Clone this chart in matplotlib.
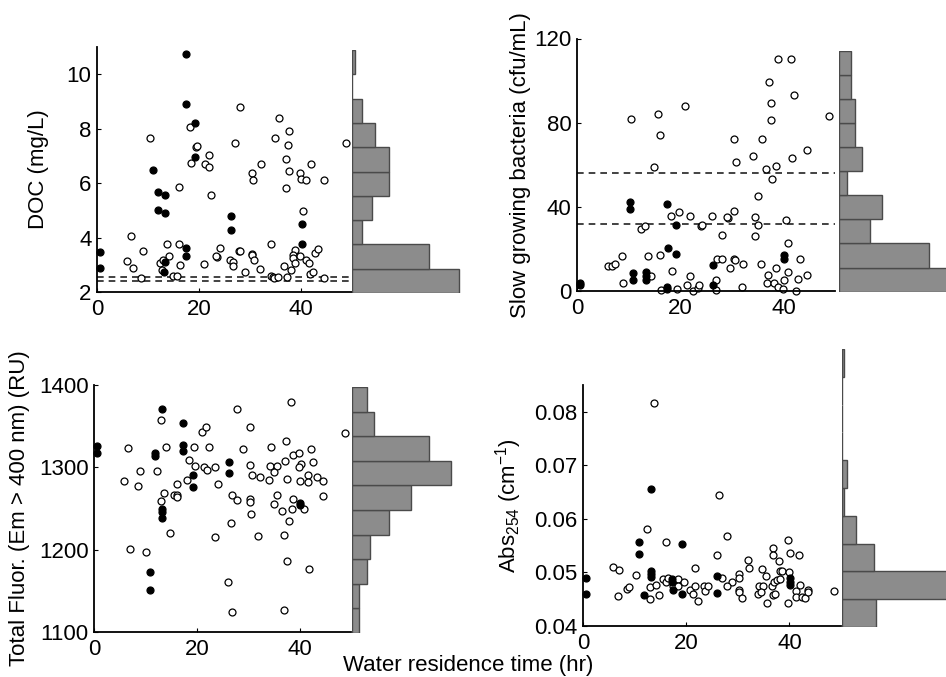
import matplotlib
matplotlib.use('Agg')
import matplotlib.pyplot as plt
import numpy as np

plt.rcParams['font.family'] = ['Liberation Sans', 'DejaVu Sans']
plt.rcParams['mathtext.fontset'] = 'custom'
plt.rcParams['mathtext.rm'] = 'Liberation Sans'
plt.rcParams['mathtext.it'] = 'Liberation Sans:italic'
plt.rcParams['font.size'] = 16

W, H = 946, 677

# ---- DOC (mg/L) ----
doc_fill_x = [0.5, 0.5, 10.9, 11.9, 13.3, 11.9, 13.3, 13.3, 13.2, 17.4, 17.5, 19.3, 19.2, 17.4, 17.4, 26.3, 26.3, 40.1, 40.1]
doc_fill_y = [3.48, 2.90, 6.48, 5.66, 5.57, 5.02, 4.92, 3.09, 2.72, 10.73, 8.90, 8.21, 6.97, 3.61, 3.34, 4.80, 4.28, 4.51, 3.77]
doc_open_x = [6.7, 5.8, 7.0, 9.0, 8.6, 10.4, 12.3, 13.0, 12.8, 13.8, 14.2, 14.9, 15.7, 16.1, 16.1, 16.3, 18.2, 18.4,
              19.4, 19.6, 21.0, 21.2, 21.9, 21.9, 22.3, 23.5, 23.4, 24.2, 27.0, 26.1, 26.7, 26.7, 27.8,
              28.0, 35.7, 37.6, 34.9, 37.4, 48.9, 37.0, 32.2, 37.6, 42.0, 30.4, 30.5, 39.8, 40.0, 40.9, 44.5,
              37.0, 40.4, 34.1, 28.0, 30.3, 30.3, 30.8, 32.0, 29.1, 38.8, 38.5, 38.5, 39.9, 38.9, 38.0, 36.7,
              40.9, 41.5, 42.8, 43.3, 41.7, 42.3, 34.2, 34.5, 34.8, 35.5, 37.3, 44.6]
doc_open_y = [4.04, 3.15, 2.88, 3.51, 2.50, 7.67, 3.07, 3.18, 2.82, 3.75, 3.34, 2.57, 2.60, 5.86, 3.77, 2.99, 8.07, 6.73,
              7.34, 7.36, 3.04, 6.69, 7.05, 6.59, 5.57, 3.29, 3.31, 3.60, 7.46, 3.16, 3.12, 2.96, 3.49,
              8.78, 8.40, 7.91, 7.64, 7.40, 7.46, 6.87, 6.70, 6.44, 6.70, 6.36, 6.11, 6.38, 6.15, 6.11, 6.11,
              5.81, 4.99, 3.78, 3.50, 3.41, 3.36, 3.16, 2.86, 2.73, 3.55, 3.37, 3.26, 3.31, 3.06, 2.81, 2.96,
              3.18, 3.06, 3.43, 3.59, 2.66, 2.73, 2.57, 2.55, 2.53, 2.56, 2.55, 2.53]
doc_lines = [2.55, 2.42]
doc_hist = [32, 23, 3, 6, 11, 11, 7, 3, 0, 1]  # bins bottom to top

# ---- Slow growing bacteria (cfu/mL) ----
bac_fill_x = [0.6, 0.6, 10.2, 10.2, 17.4, 19.2, 17.6, 19.2, 10.9, 10.9, 13.3, 13.3, 13.3, 17.5, 17.5, 26.3, 26.3, 40.2, 40.2]
bac_fill_y = [4.0, 3.0, 42.4, 38.8, 41.3, 31.5, 20.5, 17.5, 8.4, 5.3, 8.9, 7.0, 5.3, 1.8, 0.9, 12.5, 3.0, 17.1, 15.1]
bac_open_x = [10.4, 15.7, 16.1, 21.0, 15.0, 12.4, 13.1, 18.3, 19.7, 21.9, 24.1, 24.2, 26.1, 28.1, 29.2, 6.0, 6.8, 7.4,
              8.8, 9.0, 13.8, 14.3, 16.1, 16.3, 18.4, 19.4, 21.4, 21.9, 22.4, 23.4, 23.7, 26.9, 27.0, 27.1, 28.1, 29.7,
              38.9, 41.5, 37.2, 42.1, 37.5, 37.6, 48.9, 30.5, 35.8, 44.5, 34.1, 41.6, 30.9, 36.7, 38.6, 37.7,
              35.1, 30.4, 29.1, 34.5, 35.1, 40.5, 34.4, 40.8, 30.4, 30.6, 32.2, 35.7, 38.5, 43.3, 40.8, 37.1,
              44.5, 42.8, 36.9, 38.1, 40.1, 38.9, 39.9, 42.5, 32.0]
bac_open_y = [81.8, 84.0, 74.1, 88.0, 59.0, 29.7, 30.9, 35.6, 37.7, 35.6, 30.8, 31.2, 35.6, 26.7, 34.7, 12.1, 11.9, 13.0,
              16.4, 4.0, 16.5, 7.1, 17.2, 0.5, 9.4, 1.0, 3.0, 7.1, 0.0, 1.2, 2.7, 5.0, 0.5, 15.1, 15.1, 10.7,
              110.3, 110.3, 99.4, 93.3, 89.4, 81.4, 83.2, 72.4, 72.4, 67.1, 64.3, 63.3, 61.1, 58.2, 59.2, 53.2,
              45.2, 38.1, 35.1, 35.1, 31.2, 33.8, 26.2, 23.0, 15.3, 14.8, 13.0, 13.0, 10.8, 15.3, 8.9, 7.6,
              7.6, 5.9, 3.8, 3.8, 5.2, 1.7, 0.8, 0.2, 1.9]
bac_lines = [56.3, 31.8]
bac_hist = [33, 23, 8, 11, 2, 6, 4, 4, 3, 3]

# ---- Total fluorescence (RU) ----
flu_fill_x = [0.5, 0.5, 13.3, 11.8, 11.8, 17.3, 17.3, 17.3, 13.3, 13.3, 13.3, 19.2, 19.2, 10.9, 10.9, 26.3, 26.3, 40.1, 40.1]
flu_fill_y = [1325.8, 1317.7, 1370.4, 1317.3, 1313.7, 1353.4, 1326.6, 1319.3, 1249.6, 1245.6, 1237.9, 1290.2, 1275.6,
              1173.4, 1151.1, 1306.0, 1292.6, 1256.9, 1254.0]
flu_open_x = [5.8, 6.7, 7.0, 8.9, 8.6, 10.2, 12.3, 13.0, 13.0, 13.7, 14.1, 14.8, 15.6, 16.1, 16.2, 16.1, 18.1, 18.4,
              19.4, 19.6, 21.0, 21.7, 21.4, 22.0, 22.4, 23.6, 23.6, 24.2, 26.1, 26.7, 26.9, 26.9, 27.9, 27.9,
              30.3, 38.4, 48.9, 37.4, 29.0, 34.4, 38.7, 39.9, 42.3, 37.1, 42.7, 30.3, 34.2, 35.7, 35.0, 40.3,
              39.9, 30.8, 32.2, 34.0, 37.5, 40.1, 41.7, 41.6, 43.4, 44.5, 44.5, 30.4, 30.4, 35.7, 35.0, 38.7,
              38.6, 36.6, 40.8, 30.5, 37.9, 32.0, 36.9, 37.5, 41.9, 36.9]
flu_open_y = [1283.3, 1323.4, 1201.4, 1295.4, 1277.2, 1197.3, 1295.0, 1357.4, 1259.7, 1269.0, 1324.6, 1220.0, 1266.0,
              1267.0, 1264.0, 1279.6, 1284.5, 1308.8, 1324.6, 1301.9, 1342.8, 1349.3, 1300.3, 1296.2, 1325.0,
              1299.9, 1215.6, 1279.6, 1160.4, 1231.8, 1124.8, 1267.0, 1370.4, 1260.0,
              1349.3, 1379.3, 1341.6, 1331.9, 1321.8, 1324.2, 1315.3, 1316.9, 1321.8, 1307.6, 1306.0, 1302.3,
              1301.5, 1301.5, 1294.2, 1303.9, 1300.3, 1290.2, 1288.5, 1284.5, 1285.3, 1283.3, 1290.2, 1282.0,
              1288.5, 1283.3, 1264.6, 1261.0, 1258.0, 1267.0, 1255.7, 1261.0, 1249.6, 1246.8, 1249.6, 1243.1,
              1235.4, 1216.4, 1218.0, 1186.0, 1177.1, 1126.4]
flu_hist = [2, 2, 4, 5, 10, 16, 27, 21, 6, 4]

# ---- Abs254 (cm-1) ----
abs_fill_x = [0.5, 0.5, 10.9, 10.9, 13.2, 13.2, 13.2, 13.2, 11.8, 17.3, 17.3, 17.4, 19.1, 19.1, 25.9, 25.9, 40.1, 40.1, 40.1]
abs_fill_y = [0.0489, 0.0460, 0.0556, 0.0535, 0.0656, 0.0502, 0.0497, 0.0491, 0.0458, 0.0488, 0.0482, 0.0468,
              0.0553, 0.0460, 0.0494, 0.0462, 0.0489, 0.0483, 0.0477]
abs_open_x = [13.7, 12.4, 16.0, 5.8, 7.0, 10.2, 6.7, 8.5, 8.9, 13.0, 13.0, 14.1, 14.8, 15.5, 16.0, 16.4, 17.5, 18.4,
              18.5, 19.6, 20.8, 21.3, 21.8, 21.8, 22.3, 23.4, 23.6, 24.3, 26.0, 26.4,
              27.9, 39.7, 36.8, 36.8, 40.2, 41.9, 37.9, 32.0, 32.1, 34.7, 35.4, 38.2, 38.6, 39.9, 26.9, 30.2,
              30.2, 28.9, 27.9, 30.3, 30.3, 30.8, 34.1, 34.9, 34.0, 34.5, 36.6, 36.8, 37.2, 35.7, 37.0, 37.6,
              38.2, 39.8, 41.3, 42.1, 41.3, 42.5, 43.1, 43.7, 43.7, 48.7]
abs_open_y = [0.0817, 0.0581, 0.0556, 0.0511, 0.0505, 0.0495, 0.0456, 0.0469, 0.0472, 0.0451, 0.0472, 0.0477,
              0.0458, 0.0488, 0.0482, 0.0489, 0.0475, 0.0488, 0.0475, 0.0482, 0.0468, 0.0460, 0.0508, 0.0475,
              0.0446, 0.0475, 0.0466, 0.0475, 0.0532, 0.0645,
              0.0568, 0.0560, 0.0545, 0.0533, 0.0537, 0.0533, 0.0521, 0.0523, 0.0508, 0.0506, 0.0494, 0.0503,
              0.0502, 0.0500, 0.0489, 0.0498, 0.0490, 0.0482, 0.0475, 0.0468, 0.0463, 0.0452, 0.0475, 0.0474,
              0.0460, 0.0463, 0.0474, 0.0457, 0.0460, 0.0443, 0.0482, 0.0485, 0.0488, 0.0443, 0.0466, 0.0477,
              0.0455, 0.0455, 0.0452, 0.0468, 0.0464, 0.0465]
abs_hist = [15, 58, 14, 6, 1, 2, 0, 0, 0, 1]

x_ticks = [0, 20, 40]


def box(left, top, right, bottom):
    # pixel box -> figure fraction rect
    return [left / W, 1 - bottom / H, (right - left) / W, (bottom - top) / H]


def scatter_panel(rect, fx, fy, ox, oy, ylim, yticks, ylabel, label_x, lines=()):
    ax = fig.add_axes(rect)
    for y in lines:
        ax.axhline(y, color='#222222', lw=1.2, ls=(0, (4, 3)))
    ax.plot(ox, oy, 'o', mfc='white', mec='black', ms=5, mew=0.9, clip_on=False)
    ax.plot(fx, fy, 'o', mfc='black', mec='black', ms=5, mew=0.9, clip_on=False)
    ax.set_xlim(0, 50)
    ax.set_ylim(*ylim)
    ax.set_xticks(x_ticks)
    ax.set_yticks(yticks)
    ax.spines['top'].set_visible(False)
    ax.spines['right'].set_visible(False)
    ax.spines['left'].set_linewidth(1.3)
    ax.spines['bottom'].set_linewidth(1.3)
    ax.tick_params(direction='in', length=3, width=0.8, labelsize=16)
    ax.tick_params(axis='x', pad=5)
    ax.tick_params(axis='y', pad=4)
    ax.set_ylabel(ylabel, fontsize=16)
    ax.yaxis.set_label_coords(label_x, 0.5)
    return ax


def hist_panel(rect, counts, xmax):
    ax = fig.add_axes(rect)
    ax.barh(np.arange(len(counts)), counts, height=1, align='edge',
            color='#8c8c8c', edgecolor='#4a4a4a', linewidth=1)
    ax.set_ylim(0, len(counts))
    ax.set_xlim(0, xmax)
    ax.axis('off')
    return ax


fig = plt.figure(figsize=(W / 100, H / 100), dpi=100)

scatter_panel(box(97, 47, 352, 292), doc_fill_x, doc_fill_y, doc_open_x, doc_open_y,
              (2, 11), [2, 4, 6, 8, 10], 'DOC (mg/L)', -0.19, doc_lines)
hist_panel(box(352, 50, 472, 293), doc_hist, 120 / 3.33)

scatter_panel(box(577, 38.5, 835, 291), bac_fill_x, bac_fill_y, bac_open_x, bac_open_y,
              (0, 120), [0, 40, 80, 120], 'Slow growing bacteria (cfu/mL)', -0.18, bac_lines)
hist_panel(box(839, 50.7, 946, 291.7), bac_hist, 107 / 3.9)

scatter_panel(box(94, 385, 351, 632), flu_fill_x, flu_fill_y, flu_open_x, flu_open_y,
              (1100, 1400), [1100, 1200, 1300, 1400], 'Total Fluor. (Em > 400 nm) (RU)', -0.25)
hist_panel(box(352, 387, 462, 633), flu_hist, 110 / 3.67)

scatter_panel(box(583, 385, 841, 626), abs_fill_x, abs_fill_y, abs_open_x, abs_open_y,
              (0.04, 0.085), [0.04, 0.05, 0.06, 0.07, 0.08], r'Abs$_{254}$ (cm$^{-1}$)', -0.23)
hist_panel(box(842, 349, 946, 627), abs_hist, 104 / 2.27)

fig.text(468 / W, 1 - 666 / H, 'Water residence time (hr)', ha='center', va='center', fontsize=16)

fig.savefig('out.png', dpi=100)
